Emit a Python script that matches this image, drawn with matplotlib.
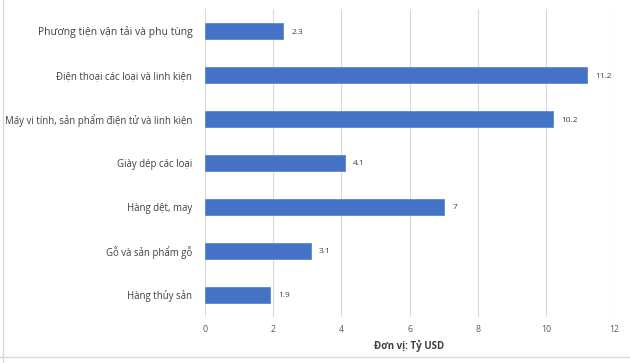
import matplotlib.pyplot as plt
import numpy as np

plt.rcParams['font.family'] = ['Open Sans', 'DejaVu Sans']

categories = ["Phương tiện vận tải và phụ tùng",
              "Điện thoại các loại và linh kiện",
              "Máy vi tính, sản phẩm điện tử và linh kiện",
              "Giày dép các loại",
              "Hàng dệt, may",
              "Gỗ và sản phẩm gỗ",
              "Hàng thủy sản"]
values = [2.3, 11.2, 10.2, 4.1, 7, 3.1, 1.9]
xticks = [0, 2, 4, 6, 8, 10, 12]

fig = plt.figure(figsize=(6.3, 3.63), dpi=100)
ax = fig.add_axes([0.325, 0.127, 0.65, 0.848])

y = np.arange(len(categories))
bars = ax.barh(y, values, height=0.36, color='#4472C4', edgecolor='#5b86d6', linewidth=0.6, zorder=3)
ax.set_ylim(len(categories) - 0.5, -0.5)
ax.set_xlim(0, 12)
ax.set_xticks(xticks)
ax.set_xticklabels([str(t) for t in xticks], color='#595959', fontsize=6.3)
ax.set_yticks(y)
ax.set_yticklabels(categories, color='#404040', fontsize=6.9)
ax.get_yticklabels()[0].set_fontsize(7.5)
ax.tick_params(axis='x', length=0, pad=6)
ax.tick_params(axis='y', length=0, pad=9)
ax.grid(axis='x', color='#d9d9d9', linewidth=0.8, zorder=0)
for s in ax.spines.values():
    s.set_visible(False)

for i, v in enumerate(values):
    ax.text(v + 0.25, i, f"{v:g}", va='center_baseline', ha='left', fontsize=6, color='#404040')

ax.set_xlabel("Đơn vị: Tỷ USD", fontsize=7, fontweight='bold', color='#404040', labelpad=4)

# light frame around image
fig.add_artist(plt.Line2D([0.004, 0.004], [0.0, 1.0], color='#d9d9d9', lw=1))
fig.add_artist(plt.Line2D([0.0, 1.0], [0.017, 0.017], color='#d9d9d9', lw=1))

fig.savefig("out.png", dpi=100)
